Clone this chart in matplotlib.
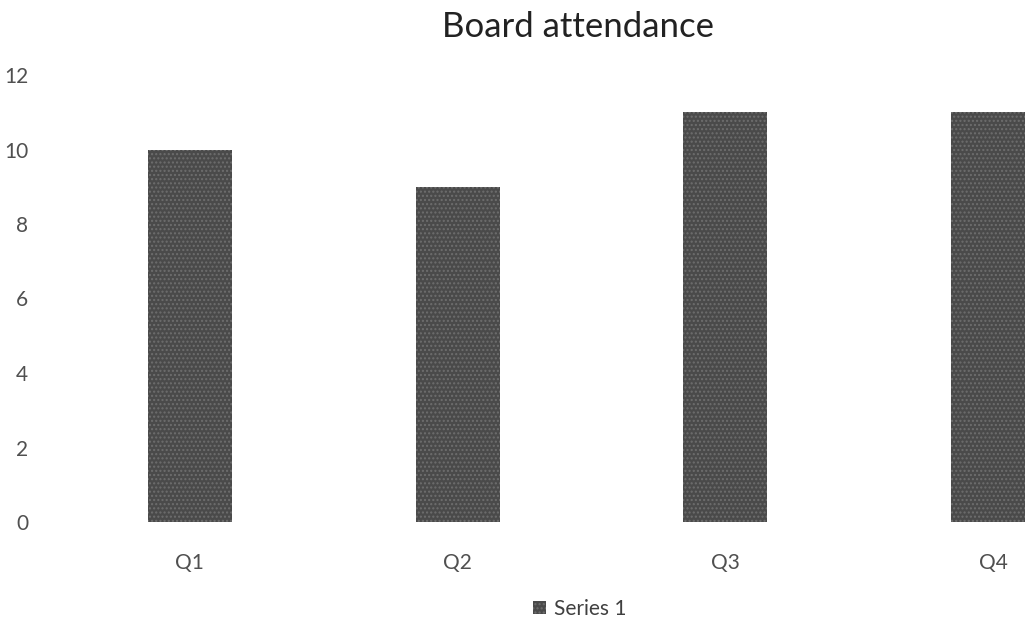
import matplotlib
matplotlib.use("Agg")
import matplotlib.pyplot as plt

# attendance per quarter
quarters = ["Q1", "Q2", "Q3", "Q4"]
attendance = [10, 9, 11, 11]
series_name = "Series 1"

plt.rcParams["font.family"] = ["Lato", "DejaVu Sans"]

fig = plt.figure(figsize=(10.25, 6.2), dpi=100)
# the plot area runs past the right edge, so the last bar is cut off
ax = fig.add_axes([56 / 1025, 98 / 620, 1071 / 1025, 447 / 620])

x = range(len(quarters))
ax.bar(x, attendance, width=0.314, color="#4a4a4a", hatch="....",
       edgecolor="#6e6e6e", linewidth=0, label=series_name)

ax.set_xlim(-0.5, len(quarters) - 0.5)
ax.set_ylim(0, 12)
ax.set_yticks(range(0, 13, 2))
ax.set_xticks(list(x))
ax.set_xticklabels(quarters)
ax.tick_params(axis="both", length=0, labelsize=15, colors="#505050")
ax.tick_params(axis="y", pad=20)
ax.tick_params(axis="x", pad=22)
for s in ax.spines.values():
    s.set_visible(False)

fig.text(578 / 1025, 1 - 27 / 620, "Board attendance", ha="center", va="center",
         fontsize=25, color="#222222")

fig.legend(loc="center", bbox_to_anchor=(580 / 1025, 1 - 609 / 620), frameon=False,
           fontsize=15, handlelength=0.6, handleheight=0.6, handletextpad=0.4,
           labelcolor="#404040")

fig.savefig("out.png", dpi=100)
